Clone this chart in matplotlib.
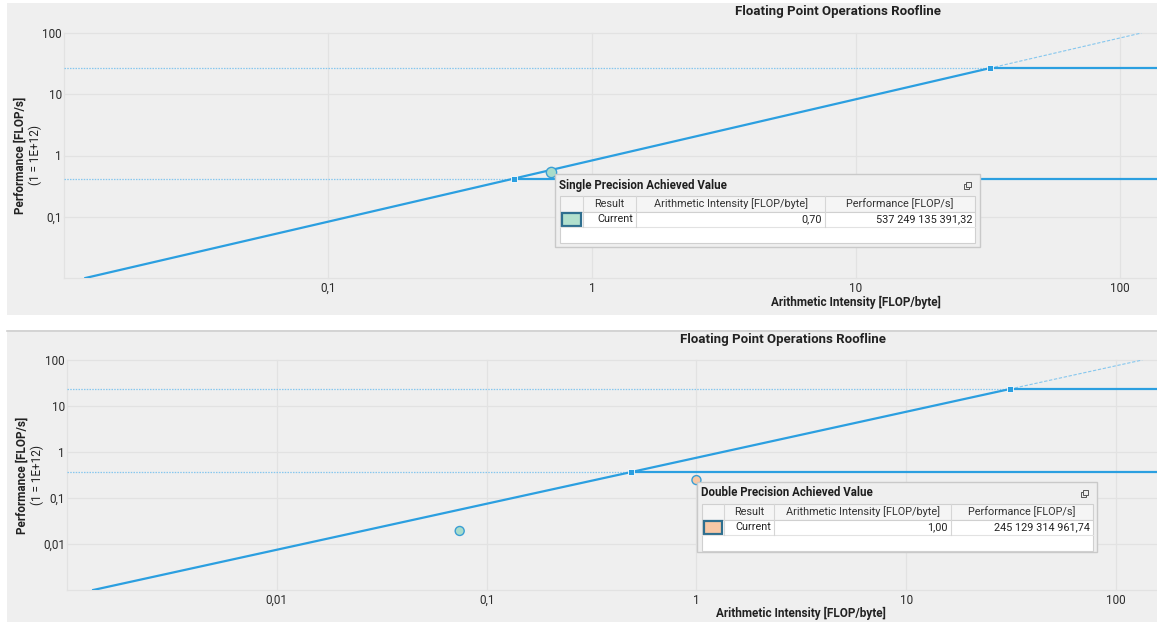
import numpy as np
import matplotlib.pyplot as plt
from matplotlib.patches import Rectangle
from matplotlib.ticker import FixedLocator, FixedFormatter, NullLocator

plt.rcParams["font.family"] = ["Roboto", "DejaVu Sans"]

W, H = 1157, 622

# roofline data, performance in units of 1E+12 FLOP/s
sp_bandwidth = 0.83
sp_roofs = [26.7, 0.42]
sp_point_ai = [0.70]
sp_point_perf = [537249135391.32]

dp_bandwidth = 0.75
dp_roofs = [23.4, 0.367]
dp_points_ai = [1.00, 0.0744]
dp_points_perf = [245129314961.74, 19200000000.0]
dp_point_colors = ["#f8c8a6", "#a9dcca"]

sp_xticks = [0.1, 1, 10, 100]
sp_xticklabels = ["0,1", "1", "10", "100"]
sp_yticks = [0.1, 1, 10, 100]
sp_yticklabels = ["0,1", "1", "10", "100"]
dp_xticks = [0.01, 0.1, 1, 10, 100]
dp_xticklabels = ["0,01", "0,1", "1", "10", "100"]
dp_yticks = [0.01, 0.1, 1, 10, 100]
dp_yticklabels = ["0,01", "0,1", "1", "10", "100"]

BLUE = "#2b9fe0"
LIGHT_BLUE = "#86c7ee"
BG = "#efefef"
TXT = "#2b2b2b"


def fmt_num(v):
    return f"{v:,.2f}".replace(",", " ").replace(".", ",")


def roofline(ax, bw, roofs, xlim, ylim, xticks, xlabels, yticks, ylabels):
    ax.set_xscale("log")
    ax.set_yscale("log")
    ax.set_xlim(*xlim)
    ax.set_ylim(*ylim)
    ax.set_facecolor(BG)
    for s in ax.spines.values():
        s.set_visible(False)

    top_roof = max(roofs)
    ridge_top = top_roof / bw
    # memory bound diagonal up to the highest roof, thin dashed beyond
    x0 = ylim[0] / bw
    ax.plot([x0, ridge_top], [ylim[0], top_roof], color=BLUE, lw=1.6, zorder=3)
    ax.plot([ridge_top, ylim[1] / bw], [top_roof, ylim[1]], color=LIGHT_BLUE,
            lw=0.8, ls=(0, (3, 1.5)), zorder=3)
    for r in roofs:
        ridge = r / bw
        ax.plot([xlim[0], ridge], [r, r], color=LIGHT_BLUE, lw=0.9,
                ls=(0, (1.2, 1.0)), zorder=2)
        ax.plot([ridge, xlim[1] * 2], [r, r], color=BLUE, lw=1.6, zorder=3)
        ax.plot([ridge], [r], marker="s", ms=4.5, color=BLUE, mec="white",
                mew=0.6, zorder=4)

    ax.xaxis.set_major_locator(FixedLocator(xticks))
    ax.xaxis.set_major_formatter(FixedFormatter(xlabels))
    ax.yaxis.set_major_locator(FixedLocator(yticks))
    ax.yaxis.set_major_formatter(FixedFormatter(ylabels))
    ax.xaxis.set_minor_locator(NullLocator())
    ax.yaxis.set_minor_locator(NullLocator())
    ax.tick_params(length=0, labelsize=8.5, labelcolor=TXT)
    ax.tick_params(axis="x", pad=3)
    ax.tick_params(axis="y", pad=1.5)
    # decade grid, including the plot edges
    decs_x = 10.0 ** np.arange(np.floor(np.log10(xlim[0])), np.ceil(np.log10(xlim[1])) + 1)
    decs_y = 10.0 ** np.arange(np.floor(np.log10(ylim[0])), np.ceil(np.log10(ylim[1])) + 1)
    for d in decs_x:
        ax.axvline(d, color="#e2e2e2", lw=0.9, zorder=1, clip_on=False)
    for d in decs_y:
        ax.axhline(d, color="#e2e2e2", lw=0.9, zorder=1, clip_on=False)


def ax_rect(left, top, right, bottom):
    return [left / W, 1 - bottom / H, (right - left) / W, (bottom - top) / H]


fig = plt.figure(figsize=(W / 100, H / 100), dpi=100, facecolor="white")

# panel backgrounds
bg = fig.add_axes([0, 0, 1, 1], zorder=-5)
bg.set_xlim(0, W)
bg.set_ylim(H, 0)
bg.axis("off")
bg.add_patch(Rectangle((7, 3), W - 7, 312, color=BG, lw=0))
bg.add_patch(Rectangle((7, 330), W - 7, H - 330, color=BG, lw=0))
bg.plot([7, W], [330.5, 330.5], color="#cfcfcf", lw=1.2)

# single precision chart
ax1 = fig.add_axes(ax_rect(64, 33, W, 278))
roofline(ax1, sp_bandwidth, sp_roofs, (0.01, 10 ** 2.14), (0.01, 100),
         sp_xticks, sp_xticklabels, sp_yticks, sp_yticklabels)
ax1.scatter(sp_point_ai, np.array(sp_point_perf) / 1e12, s=55, color="#a9dcca",
            edgecolor="#3a9ed4", lw=1.0, zorder=5)

# double precision chart
ax2 = fig.add_axes(ax_rect(67, 360, W, 590))
roofline(ax2, dp_bandwidth, dp_roofs, (0.001, 10 ** 2.195), (0.001, 100),
         dp_xticks, dp_xticklabels, dp_yticks, dp_yticklabels)
ax2.scatter(dp_points_ai, np.array(dp_points_perf) / 1e12, s=42,
            color=dp_point_colors, edgecolor="#3a9ed4", lw=1.0, zorder=5)

# titles and axis labels
ov = fig.add_axes([0, 0, 1, 1], zorder=10)
ov.set_xlim(0, W)
ov.set_ylim(H, 0)
ov.axis("off")

for tx, ty, xx, xy, yx, yy in [(838, 12, 856, 302, 20, 155),
                               (783, 339, 801, 613, 22, 475)]:
    ov.text(tx, ty, "Floating Point Operations Roofline", ha="center",
            va="center", fontsize=9.5, weight="bold", color="#222222")
    ov.text(xx, xy, "Arithmetic Intensity [FLOP/byte]", ha="center",
            va="center", fontsize=8.5, weight="bold", color="#222222")
    ov.text(yx, yy, "Performance [FLOP/s]", ha="center", va="center",
            rotation=90, fontsize=8.5, weight="bold", color="#222222")
    ov.text(yx + 15, yy, "(1 = 1E+12)", ha="center", va="center",
            rotation=90, fontsize=8.5, color="#222222")


def value_box(left, top, right, bottom, title, cols, swatch, ai, perf):
    ov.add_patch(Rectangle((left, top), right - left, bottom - top,
                           facecolor=BG, edgecolor="#c9c9c9", lw=1.0))
    ov.text(left + 4, top + 11, title, ha="left", va="center", fontsize=8.3,
            weight="bold", color="#1e1e1e")
    # copy icon
    ix, iy = right - 13, top + 11
    ov.add_patch(Rectangle((ix - 3, iy - 1), 5, 5, fill=False, ec="#555555", lw=0.7))
    ov.add_patch(Rectangle((ix - 1, iy - 3), 5, 5, facecolor=BG, ec="#555555", lw=0.7))

    tl, tr = cols[0], cols[-1]
    y0 = top + 22
    rh = 15.5
    ov.add_patch(Rectangle((tl, y0), tr - tl, rh, facecolor="#f5f5f5",
                           edgecolor="#d0d0d0", lw=0.8))
    ov.add_patch(Rectangle((tl, y0 + rh), tr - tl, rh * 2, facecolor="white",
                           edgecolor="#d0d0d0", lw=0.8))
    ov.plot([tl, tr], [y0 + 2 * rh, y0 + 2 * rh], color="#e2e2e2", lw=0.8)
    for c in cols[1:-1]:
        ov.plot([c, c], [y0, y0 + 2 * rh], color="#d6d6d6", lw=0.8)
    heads = ["Result", "Arithmetic Intensity [FLOP/byte]", "Performance [FLOP/s]"]
    for i, h in enumerate(heads):
        ov.text((cols[i + 1] + cols[i + 2]) / 2, y0 + rh / 2, h, ha="center",
                va="center", fontsize=7.8, color="#333333")
    cells = ["Current", f"{ai:.2f}".replace(".", ","), fmt_num(perf)]
    for i, t in enumerate(cells):
        ov.text(cols[i + 2] - 3, y0 + rh * 1.5, t, ha="right", va="center",
                fontsize=7.8, color="#222222")
    ov.add_patch(Rectangle((tl + 2, y0 + rh + 1.5), cols[1] - tl - 4, rh - 3,
                           facecolor=swatch, edgecolor="#2f6f8f", lw=1.6))


value_box(555, 174, 980, 247, "Single Precision Achieved Value",
          [560, 583, 636, 825, 975], "#b2e0cd", sp_point_ai[0], sp_point_perf[0])
value_box(697, 482, 1097, 552, "Double Precision Achieved Value",
          [702, 724, 774, 951, 1093], "#f8c8a6", dp_points_ai[0], dp_points_perf[0])

fig.savefig("out.png", dpi=100, facecolor="white")
